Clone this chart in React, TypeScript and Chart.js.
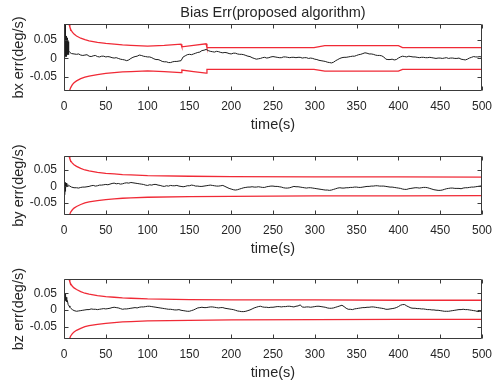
import React, { useEffect, useRef } from "react";
import { Chart, registerables } from "chart.js";

Chart.register(...registerables);

const FONT = "'Liberation Sans', Arial, Helvetica, sans-serif";
const TEXT_COLOR = "#262626";
const AXIS_COLOR = "#3a3a3a";
const RED = "#f02a36";
const BLACK = "#1c1c1c";

const TITLE = "Bias Err(proposed algorithm)";
const X_LABEL = "time(s)";
const Y_LABELS = ["bx err(deg/s)", "by err(deg/s)", "bz err(deg/s)"];
const X_TICKS = [0, 50, 100, 150, 200, 250, 300, 350, 400, 450, 500];
const Y_TICKS = [-0.05, 0, 0.05];
const X_RANGE = [0, 500];
const Y_RANGE = [-0.087, 0.092];

// common sampling instants after the start-up transient (s)
const GRID_T = [
  15, 17.5, 20, 22.5, 25, 27.5, 30, 32.5, 35, 37.5,
  40, 42.5, 45, 47.5, 50, 52.5, 55, 57.5, 60, 62.5,
  65, 67.5, 70, 72.5, 75, 77.5, 80, 82.5, 85, 87.5,
  90, 92.5, 95, 97.5, 100, 102.5, 105, 107.5, 110, 112.5,
  115, 117.5, 120, 122.5, 125, 127.5, 130, 132.5, 135, 137.5,
  140, 142.5, 145, 147.5, 150, 152.5, 155, 157.5, 160, 162.5,
  165, 167.5, 170, 172.5, 175, 177.5, 180, 182.5, 185, 187.5,
  190, 192.5, 195, 197.5, 200, 202.5, 205, 207.5, 210, 212.5,
  215, 217.5, 220, 222.5, 225, 227.5, 230, 232.5, 235, 237.5,
  240, 242.5, 245, 247.5, 250, 252.5, 255, 257.5, 260, 262.5,
  265, 267.5, 270, 272.5, 275, 277.5, 280, 282.5, 285, 287.5,
  290, 292.5, 295, 297.5, 300, 302.5, 305, 307.5, 310, 312.5,
  315, 317.5, 320, 322.5, 325, 327.5, 330, 332.5, 335, 337.5,
  340, 342.5, 345, 347.5, 350, 352.5, 355, 357.5, 360, 362.5,
  365, 367.5, 370, 372.5, 375, 377.5, 380, 382.5, 385, 387.5,
  390, 392.5, 395, 397.5, 400, 402.5, 405, 407.5, 410, 412.5,
  415, 417.5, 420, 422.5, 425, 427.5, 430, 432.5, 435, 437.5,
  440, 442.5, 445, 447.5, 450, 452.5, 455, 457.5, 460, 462.5,
  465, 467.5, 470, 472.5, 475, 477.5, 480, 482.5, 485, 487.5,
  490, 492.5, 495, 497.5, 500,
];

// ---- bx error (black) ----
const BX_EARLY_T = [0.3, 0.6, 0.9, 1.2, 1.5, 1.8, 2.1, 2.4, 2.8, 3.2, 3.6, 4.0, 4.4, 4.8, 5.3, 5.8, 7, 9, 12];
const BX_EARLY_V = [0, 0.09, 0.01, 0.095, 0.005, 0.08, 0.01, 0.06, 0.005, 0.05, 0.01, 0.055, 0.012, 0.045, 0.01, 0.02, 0.016, 0.013, 0.012];
const BX_V = [
  0.011, 0.012, 0.009, 0.008, 0.009, 0.010, 0.006, 0.005, 0.007, 0.008,
  0.005, 0.004, 0.006, 0.006, 0.004, 0.005, 0.004, 0.002, 0.001, 0.002,
  0, -0.002, -0.003, -0.004, -0.006, -0.004, 0, 0.003, 0.005, 0.006,
  0.009, 0.008, 0.006, 0.005, 0.004, 0.004, 0.002, -0.001, -0.003, -0.003,
  -0.005, -0.008, -0.009, -0.009, -0.011, -0.011, -0.009, -0.008, -0.008, -0.007,
  -0.006, 0.004, 0.007, 0.010, 0.011, 0.010, 0.012, 0.014, 0.016, 0.017,
  0.021, 0.022, 0.024, 0.021, 0.019, 0.018, 0.017, 0.019, 0.018, 0.016,
  0.015, 0.016, 0.015, 0.013, 0.012, 0.014, 0.014, 0.012, 0.011, 0.011,
  0.010, 0.008, 0.006, 0.005, 0.002, 0, -0.002, -0.001, 0, 0.002,
  0.003, 0.001, 0.002, 0.004, 0.005, 0.004, 0.003, 0.002, 0.002, 0.004,
  0.004, 0.003, 0.002, 0.003, 0.003, 0.002, 0.003, 0.003, 0.001, 0.002,
  0.002, 0, 0.001, 0, -0.002, -0.003, -0.005, -0.006, -0.007, -0.008,
  -0.010, -0.011, -0.012, -0.010, -0.006, -0.003, 0, 0.002, 0.003, 0.003,
  0.004, 0.005, 0.006, 0.006, 0.008, 0.010, 0.011, 0.013, 0.015, 0.014,
  0.012, 0.012, 0.011, 0.009, 0.008, 0.008, 0.007, 0.004, -0.002, -0.003,
  -0.003, -0.002, -0.004, -0.003, 0.001, 0.004, 0.006, 0.005, 0.004, 0.006,
  0.005, 0.004, 0.004, 0.003, 0.002, 0.003, 0.003, 0.002, 0.002, 0.003,
  0.002, 0.001, 0, 0.001, 0.001, 0, 0.001, 0.002, 0, 0.001,
  0.001, 0, 0, 0.001, -0.002, -0.003, -0.004, -0.002, 0.001, 0.003,
  0.005, 0.004, 0.004, 0.005, 0.003,
];

// ---- by error (black) ----
const BY_EARLY_T = [0.3, 0.6, 0.9, 1.2, 1.5, 1.8, 2.2, 2.6, 3.0, 3.5, 4.0, 5, 7, 9, 12];
const BY_EARLY_V = [-0.02, 0.01, -0.025, 0.008, -0.015, 0.012, -0.005, 0.01, 0, 0.008, 0.003, 0.004, 0.001, -0.002, -0.004];
const BY_V = [
  -0.004, -0.005, -0.003, -0.002, -0.002, -0.001, 0, 0.002, 0.003, 0.001,
  0.002, 0.004, 0.004, 0.005, 0.006, 0.005, 0.007, 0.009, 0.010, 0.008,
  0.009, 0.007, 0.008, 0.010, 0.011, 0.010, 0.012, 0.011, 0.010, 0.009,
  0.008, 0.007, 0.006, 0.004, 0.003, 0.005, 0.004, 0.006, 0.006, 0.004,
  0.003, 0.001, 0, 0.002, 0.001, 0.003, 0.002, 0.002, 0.003, 0.001,
  0, -0.001, 0, 0.002, 0.002, 0.004, 0.003, 0.001, 0.001, 0,
  0, 0.001, 0.002, 0.003, 0.004, 0.003, 0.002, 0.001, 0.001, 0.002,
  0.003, 0, -0.003, -0.006, -0.008, -0.010, -0.011, -0.010, -0.008, -0.006,
  -0.004, -0.003, -0.002, -0.002, -0.001, -0.002, -0.002, -0.001, -0.002, -0.003,
  -0.003, -0.001, 0, 0.001, 0.001, 0, 0, -0.001, -0.002, -0.004,
  -0.005, -0.005, -0.004, -0.002, 0, -0.001, -0.001, -0.002, -0.003, -0.004,
  -0.005, -0.004, -0.004, -0.005, -0.006, -0.007, -0.008, -0.009, -0.010, -0.011,
  -0.011, -0.012, -0.011, -0.009, -0.007, -0.005, -0.004, -0.005, -0.005, -0.004,
  -0.004, -0.003, -0.003, -0.002, -0.002, -0.003, -0.003, -0.002, -0.001, 0,
  0, 0.001, 0.001, 0.002, 0.002, 0.001, 0.001, 0.001, 0, -0.001,
  -0.002, -0.002, -0.003, -0.004, -0.005, -0.006, -0.008, -0.009, -0.009, -0.007,
  -0.006, -0.005, -0.004, -0.004, -0.005, -0.004, -0.003, -0.003, -0.004, -0.006,
  -0.008, -0.010, -0.011, -0.012, -0.012, -0.011, -0.009, -0.007, -0.006, -0.005,
  -0.005, -0.006, -0.006, -0.006, -0.007, -0.005, -0.004, -0.004, -0.003, -0.002,
  -0.002, -0.001, 0, 0.001, 0.002,
];

// ---- bz error (black) ----
const BZ_EARLY_T = [0.3, 0.6, 0.9, 1.2, 1.5, 1.8, 2.2, 2.6, 3.0, 3.5, 4.0, 5, 6, 7, 8.5, 10, 12];
const BZ_EARLY_V = [0.04, 0.025, 0.045, 0.03, 0.05, 0.028, 0.042, 0.03, 0.038, 0.025, 0.028, 0.016, 0.012, 0.008, 0.004, 0.001, -0.002];
const BZ_V = [
  -0.004, -0.003, -0.002, -0.001, 0, 0.001, 0.001, 0.003, 0.002, 0.002,
  0.001, 0.002, 0.003, 0.004, 0.003, 0.004, 0.005, 0.007, 0.008, 0.007,
  0.006, 0.004, 0.002, 0.003, 0.003, 0.004, 0.005, 0.006, 0.007, 0.006,
  0.008, 0.009, 0.009, 0.010, 0.011, 0.011, 0.010, 0.009, 0.008, 0.007,
  0.006, 0.005, 0.004, 0.003, 0.002, 0.002, 0.001, 0, 0, 0.001,
  -0.001, -0.002, -0.003, -0.004, -0.004, -0.002, 0, 0.003, 0.006, 0.007,
  0.008, 0.007, 0.007, 0.008, 0.009, 0.009, 0.008, 0.007, 0.006, 0.007,
  0.007, 0.005, 0.004, 0.003, 0.002, 0.001, -0.001, -0.003, -0.004, -0.005,
  -0.005, -0.004, -0.002, 0, 0.003, 0.006, 0.008, 0.010, 0.011, 0.009,
  0.008, 0.008, 0.007, 0.008, 0.008, 0.009, 0.010, 0.010, 0.009, 0.010,
  0.010, 0.011, 0.011, 0.010, 0.009, 0.011, 0.012, 0.015, 0.009, 0.008,
  0.009, 0.009, 0.008, 0.009, 0.010, 0.011, 0.011, 0.010, 0.009, 0.008,
  0.006, 0.005, 0.005, 0.006, 0.008, 0.010, 0.012, 0.014, 0.010, 0.005,
  0.002, 0.002, 0.001, 0.003, 0.004, 0.005, 0.006, 0.007, 0.007, 0.008,
  0.008, 0.009, 0.009, 0.008, 0.007, 0.006, 0.005, 0.004, 0.002, 0.002,
  0.003, 0.004, 0.005, 0.007, 0.010, 0.014, 0.016, 0.016, 0.012, 0.009,
  0.006, 0.005, 0.005, 0.004, 0.004, 0.003, 0.003, 0.002, 0.001, 0.001,
  0, 0, -0.001, -0.001, -0.002, -0.003, -0.004, -0.004, -0.004, -0.003,
  -0.002, -0.001, 0, 0.001, 0.001, 0.002, 0.001, 0.001, 0, -0.001,
  -0.002, -0.003, -0.005, -0.004, -0.004,
];

// ---- red bounds ----
const ENV1_T = [2.5, 4, 5, 6, 7, 8, 10, 12, 15, 20, 25, 30, 40, 50, 60, 70, 80, 100, 120, 140, 141, 155, 170, 171, 200, 250, 299, 312, 400, 405, 500];
const ENV1_UP = [0.2, 0.13, 0.105, 0.092, 0.084, 0.078, 0.07, 0.065, 0.06, 0.054, 0.05, 0.047, 0.043, 0.04, 0.038, 0.036, 0.035, 0.033, 0.035, 0.038, 0.031, 0.035, 0.039, 0.029, 0.029, 0.029, 0.029, 0.034, 0.034, 0.029, 0.029];
const ENV1_LO = [-0.2, -0.13, -0.105, -0.092, -0.084, -0.078, -0.07, -0.065, -0.06, -0.054, -0.05, -0.047, -0.043, -0.04, -0.038, -0.036, -0.035, -0.033, -0.035, -0.038, -0.031, -0.035, -0.039, -0.029, -0.029, -0.029, -0.029, -0.034, -0.034, -0.029, -0.029];

const ENV_T = [2.5, 4, 5, 6, 7, 8, 10, 12, 15, 20, 25, 30, 40, 50, 60, 70, 80, 100, 150, 200, 300, 400, 500];
const ENV2_UP = [0.2, 0.13, 0.105, 0.092, 0.084, 0.078, 0.071, 0.066, 0.061, 0.055, 0.05, 0.047, 0.043, 0.04, 0.038, 0.036, 0.035, 0.033, 0.031, 0.03, 0.029, 0.029, 0.028];
const ENV2_LO = [-0.2, -0.13, -0.105, -0.092, -0.084, -0.078, -0.071, -0.066, -0.061, -0.055, -0.05, -0.047, -0.043, -0.04, -0.038, -0.036, -0.035, -0.033, -0.031, -0.03, -0.029, -0.029, -0.028];
const ENV3_UP = [0.2, 0.13, 0.105, 0.092, 0.084, 0.078, 0.071, 0.066, 0.061, 0.055, 0.05, 0.047, 0.043, 0.04, 0.038, 0.036, 0.035, 0.033, 0.031, 0.03, 0.03, 0.029, 0.029];
const ENV3_LO = [-0.2, -0.13, -0.105, -0.092, -0.084, -0.078, -0.071, -0.066, -0.061, -0.055, -0.05, -0.047, -0.043, -0.04, -0.038, -0.036, -0.035, -0.033, -0.031, -0.03, -0.029, -0.028, -0.028];

const pts = (t: number[], v: number[]) => t.map((x, i) => ({ x, y: v[i] }));

const boxPlugin = {
  id: "matlabBox",
  afterDatasetsDraw(chart: any) {
    const { ctx, chartArea: a, scales } = chart;
    const L = Math.round(a.left) + 0.5;
    const R = Math.round(a.right) - 0.5;
    const T = Math.round(a.top) + 0.5;
    const B = Math.round(a.bottom) - 0.5;
    ctx.save();
    ctx.strokeStyle = AXIS_COLOR;
    ctx.lineWidth = 1;
    ctx.beginPath();
    ctx.rect(L, T, R - L, B - T);
    const len = 4;
    scales.x.ticks.forEach((tk: any) => {
      const px = Math.round(scales.x.getPixelForValue(tk.value)) + 0.5;
      ctx.moveTo(px, B);
      ctx.lineTo(px, B - len);
      ctx.moveTo(px, T);
      ctx.lineTo(px, T + len);
    });
    scales.y.ticks.forEach((tk: any) => {
      const py = Math.round(scales.y.getPixelForValue(tk.value)) + 0.5;
      ctx.moveTo(L, py);
      ctx.lineTo(L + len, py);
      ctx.moveTo(R, py);
      ctx.lineTo(R - len, py);
    });
    ctx.stroke();
    ctx.restore();
  },
};

type PanelProps = {
  top: number;
  height: number;
  padTop: number;
  title?: string;
  yLabel: string;
  earlyT: number[];
  earlyV: number[];
  v: number[];
  envT: number[];
  envUp: number[];
  envLo: number[];
};

function Panel(p: PanelProps) {
  const ref = useRef<HTMLCanvasElement>(null);
  useEffect(() => {
    const lineDs = (data: any, color: string, w: number) => ({
      data,
      borderColor: color,
      borderWidth: w,
      pointRadius: 0,
      tension: 0,
      fill: false,
      clip: 0,
    });
    const black = pts(p.earlyT, p.earlyV).concat(pts(GRID_T, p.v));
    const chart = new Chart(ref.current as HTMLCanvasElement, {
      type: "line",
      data: {
        datasets: [
          lineDs(black, BLACK, 1),
          lineDs(pts(p.envT, p.envUp), RED, 1.3),
          lineDs(pts(p.envT, p.envLo), RED, 1.3),
        ],
      },
      options: {
        responsive: false,
        animation: false,
        devicePixelRatio: 1,
        layout: { padding: { left: 0, right: 11, top: p.padTop, bottom: 0 } },
        plugins: {
          legend: { display: false },
          tooltip: { enabled: false },
          title: {
            display: !!p.title,
            text: p.title || "",
            color: TEXT_COLOR,
            font: { family: FONT, size: 14.5, weight: "normal" },
            padding: { top: 4, bottom: 2.6 },
            fullSize: false,
          },
        },
        scales: {
          x: {
            type: "linear",
            min: X_RANGE[0],
            max: X_RANGE[1],
            afterBuildTicks: (s: any) => {
              s.ticks = X_TICKS.map((value) => ({ value }));
            },
            afterFit: (s: any) => {
              s.height = 44;
            },
            grid: { display: false, drawTicks: false },
            border: { display: false },
            ticks: {
              color: TEXT_COLOR,
              font: { family: FONT, size: 12 },
              padding: 8,
              maxRotation: 0,
              autoSkip: false,
              callback: (val: any) => String(val),
            },
            title: {
              display: true,
              text: X_LABEL,
              color: TEXT_COLOR,
              font: { family: FONT, size: 14.5 },
              padding: { top: 0, bottom: 1.3 },
            },
          },
          y: {
            type: "linear",
            min: Y_RANGE[0],
            max: Y_RANGE[1],
            afterBuildTicks: (s: any) => {
              s.ticks = Y_TICKS.map((value) => ({ value }));
            },
            afterFit: (s: any) => {
              s.width = 64;
            },
            grid: { display: false, drawTicks: false },
            border: { display: false },
            ticks: {
              color: TEXT_COLOR,
              font: { family: FONT, size: 12 },
              padding: 7,
              autoSkip: false,
              callback: (val: any) => String(Number(Number(val).toFixed(3))),
            },
            title: {
              display: true,
              text: p.yLabel,
              color: TEXT_COLOR,
              font: { family: FONT, size: 14.5 },
              padding: { top: 10, bottom: 0 },
            },
          },
        },
      } as any,
      plugins: [boxPlugin],
    });
    return () => chart.destroy();
  }, []);
  return (
    <canvas
      ref={ref}
      width={500}
      height={p.height}
      style={{ position: "absolute", left: 0, top: p.top, width: 500, height: p.height }}
    />
  );
}

export default function App() {
  return (
    <div style={{ position: "absolute", left: 0, top: 0, width: 500, height: 386, background: "#fff", overflow: "hidden" }}>
      <Panel top={0} height={135} padTop={0} title={TITLE} yLabel={Y_LABELS[0]} earlyT={BX_EARLY_T} earlyV={BX_EARLY_V} v={BX_V} envT={ENV1_T} envUp={ENV1_UP} envLo={ENV1_LO} />
      <Panel top={142} height={117} padTop={6} yLabel={Y_LABELS[1]} earlyT={BY_EARLY_T} earlyV={BY_EARLY_V} v={BY_V} envT={ENV_T} envUp={ENV2_UP} envLo={ENV2_LO} />
      <Panel top={265} height={118} padTop={6} yLabel={Y_LABELS[2]} earlyT={BZ_EARLY_T} earlyV={BZ_EARLY_V} v={BZ_V} envT={ENV_T} envUp={ENV3_UP} envLo={ENV3_LO} />
    </div>
  );
}
